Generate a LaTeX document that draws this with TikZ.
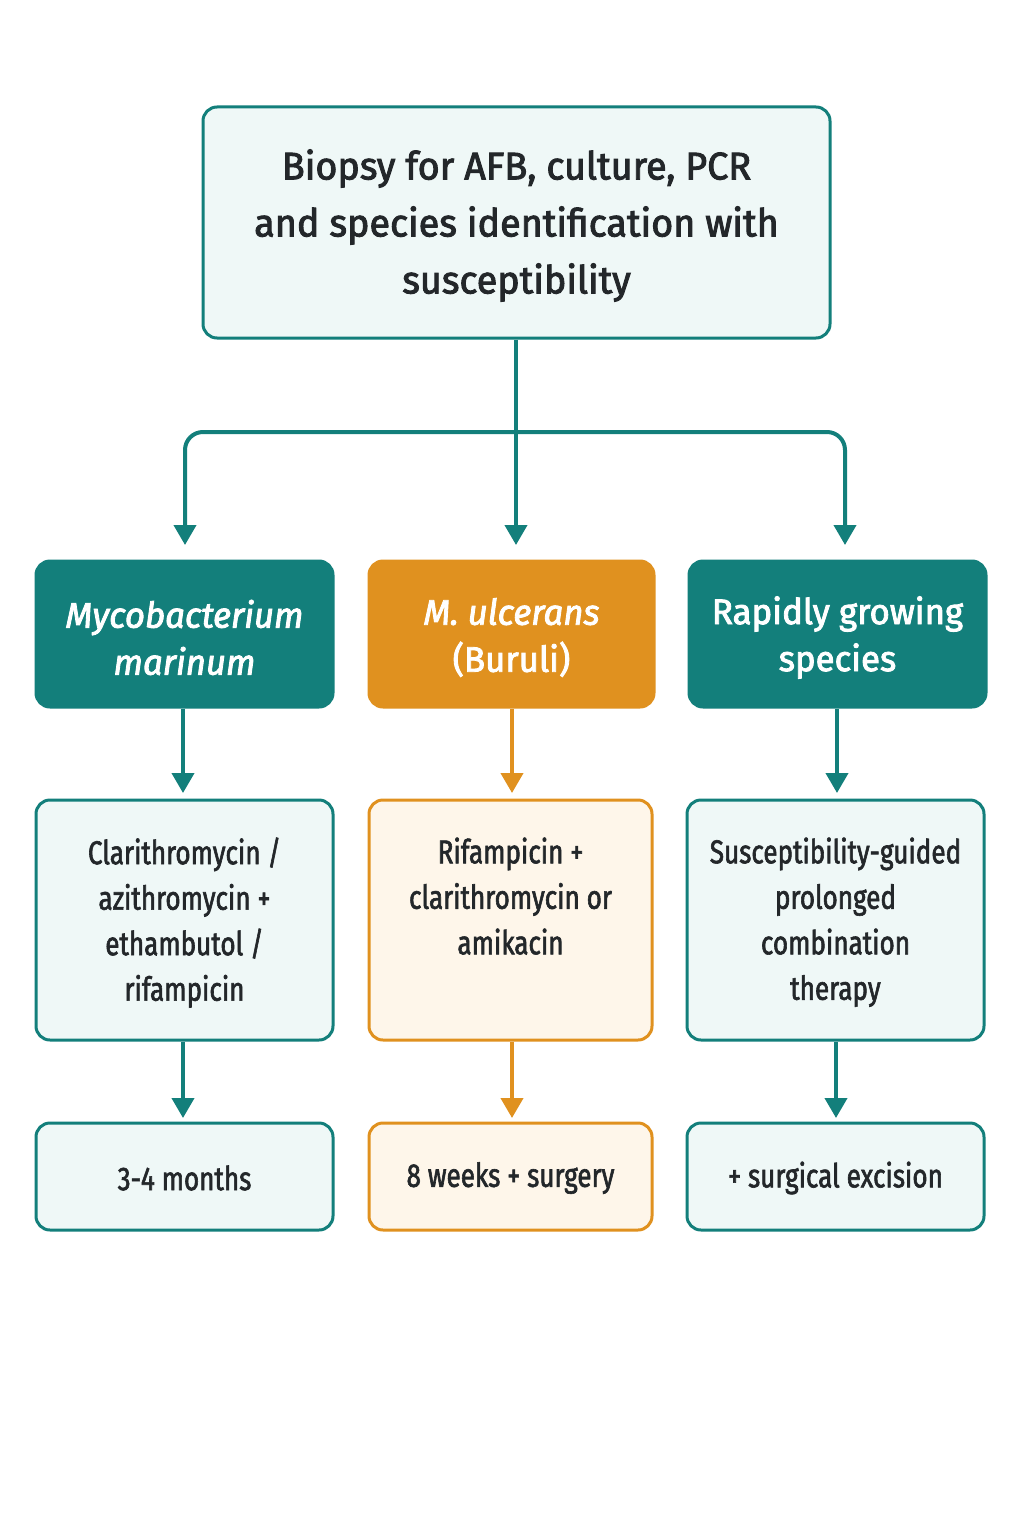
\documentclass[tikz,border=0pt]{standalone}
\usepackage{fontspec}
\setmainfont{Fira Sans}
\newfontfamily\topf{Fira Sans}[FakeStretch=0.98, FakeBold=2.4]
\newfontfamily\midf{Fira Sans}[FakeStretch=0.98, FakeBold=2.4]
\newfontfamily\smf{Fira Sans}[FakeStretch=0.79, FakeBold=1.8]
\usetikzlibrary{arrows.meta}
\definecolor{teal}{HTML}{137F7B}
\definecolor{orng}{HTML}{E0911F}
\definecolor{ltteal}{HTML}{EFF8F7}
\definecolor{cream}{HTML}{FEF6EA}
\definecolor{ink}{HTML}{23272A}
\newcommand\lowerby[2]{\raisebox{-#1}[\height][\depth]{#2}}
\tikzset{
  x=1pt, y=-1pt,
  box/.style={draw, line width=3pt, rounded corners=14pt, inner sep=0pt},
  tealbox/.style={box, draw=teal, fill=ltteal, text=ink},
  orgbox/.style={box, draw=orng, fill=cream, text=ink},
  darkbox/.style={box, draw=teal, fill=teal, text=white},
  darkorg/.style={box, draw=orng, fill=orng, text=white},
  arr/.style={line width=4pt, -{Triangle[width=22pt,length=20pt]}},
  tline/.style={arr, draw=teal, rounded corners=18pt},
  oline/.style={arr, draw=orng},
  big/.style={font=\topf\fontsize{38.5}{57}\selectfont, align=center},
  mid/.style={font=\midf\fontsize{35.5}{47}\selectfont, align=center},
  small/.style={font=\smf\fontsize{33}{45.5}\selectfont, align=center, text=ink},
}
\begin{document}
\begin{tikzpicture}
\useasboundingbox[fill=white] (0,0) rectangle (1024,1536);
% top
\node[tealbox, big, minimum width=627pt, minimum height=231pt] (top) at (516.5,222.5)
  {\lowerby{3pt}{\parbox{600pt}{\centering Biopsy for AFB, culture, PCR\\and species identification with\\susceptibility}}};
% row 2
\node[darkbox, mid, minimum width=297pt, minimum height=146pt] (l2) at (184.5,634)
  {\lowerby{3.5pt}{\parbox{290pt}{\centering\itshape Mycobacterium\\marinum}}};
\node[darkorg, mid, minimum width=285pt, minimum height=146pt] (m2) at (511.5,634)
  {\lowerby{3.5pt}{\parbox{280pt}{\centering{\itshape M. ulcerans}\\(Buruli)}}};
\node[darkbox, mid, minimum width=297pt, minimum height=146pt] (r2) at (837.5,634)
  {\lowerby{3.5pt}{\parbox{290pt}{\centering Rapidly growing\\species}}};
% row 3 boxes
\node[tealbox, minimum width=297pt, minimum height=240pt] (l3) at (184.5,920) {};
\node[orgbox, minimum width=283pt, minimum height=240pt] (m3) at (510.5,920) {};
\node[tealbox, minimum width=297pt, minimum height=240pt] (r3) at (835.5,920) {};
\node[small, anchor=north] (l3t) at (184.5,834) {Clarithromycin /\\azithromycin +\\ethambutol /\\rifampicin};
\node[small, anchor=north] (m3t) at (510.5,834) {Rifampicin +\\clarithromycin or\\amikacin};
\node[small, anchor=north] (r3t) at (835.5,834) {Susceptibility-guided\\prolonged\\combination\\therapy};
% row 4
\node[tealbox, small, minimum width=297pt, minimum height=107pt] (l4) at (184.5,1176.5) {\lowerby{1.5pt}{3-4 months}};
\node[orgbox, small, minimum width=283pt, minimum height=107pt] (m4) at (510.5,1176.5) {\lowerby{1.5pt}{8 weeks + surgery}};
\node[tealbox, small, minimum width=297pt, minimum height=107pt] (r4) at (835.5,1176.5) {\lowerby{1.5pt}{+ surgical excision}};
% connectors
\coordinate (split) at (516,432);
\coordinate (lend) at (185,545);
\coordinate (mend) at (516,545);
\coordinate (rend) at (845,545);
\draw[tline] (top.south -| split) -- (mend);
\draw[tline] (split) -| (lend);
\draw[tline] (split) -| (rend);
\draw[tline] (l2.south -| 183,0) -- (183,793);
\draw[oline] (m2.south -| 512,0) -- (512,793);
\draw[tline] (r2.south -| 837,0) -- (837,793);
\draw[tline] (l3.south -| 183,0) -- (183,1118);
\draw[oline] (m3.south -| 512,0) -- (512,1118);
\draw[tline] (r3.south -| 836,0) -- (836,1118);
\end{tikzpicture}
\end{document}
